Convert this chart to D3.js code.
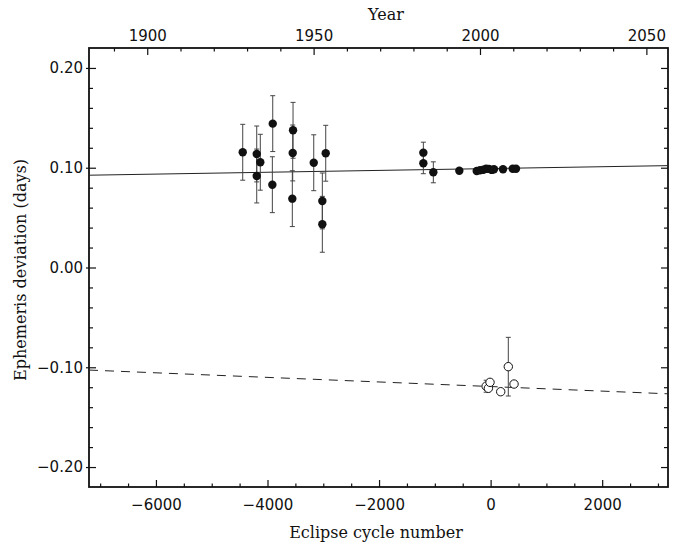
<!DOCTYPE html>
<html>
<head>
<meta charset="utf-8">
<script src="https://cdn.jsdelivr.net/npm/d3@7"></script>
<style>
  body { margin: 0; background: #fff; }
  svg { display: block; }
  .tick text { font-family: "DejaVu Sans", sans-serif; font-size: 15px; fill: #111; }
  .tick line { stroke: #111; stroke-width: 1.2; }
  .title { font-family: "DejaVu Serif", serif; font-size: 16px; fill: #111; }
</style>
</head>
<body>
<script>
// --- données ---
// points pleins (cycle, écart en jours, barre d'erreur)
const filledCycles = [-4444, -4193, -4193, -4129, -3906, -3913, -3542, -3548, -3555, -3171, -2956, -3017, -3017,
                      -1206, -1206, -1027, -561, -249, -190, -130, -80, -30, 20, 60, 222, 396, 455];
const filledDev    = [0.1155, 0.1138, 0.0917, 0.1055, 0.1442, 0.0830, 0.1375, 0.1148, 0.0690, 0.1050, 0.1145, 0.0667, 0.0433,
                      0.1151, 0.1045, 0.0954, 0.0970, 0.0967, 0.0975, 0.0980, 0.0990, 0.0988, 0.0978, 0.0985, 0.0984, 0.0990, 0.0990];
const filledErr    = [0.028, 0.028, 0.027, 0.028, 0.028, 0.028, 0.028, 0.028, 0.028, 0.028, 0.028, 0.028, 0.028,
                      0.0105, 0.0105, 0.0105, 0, 0, 0, 0, 0, 0, 0, 0, 0, 0, 0];

// points ouverts
const openCycles = [-80, -40, -11, 181, 317, 420];
const openDev    = [-0.1190, -0.1211, -0.1151, -0.1245, -0.0994, -0.1168];
const openErr    = [0.006, 0, 0, 0, 0.0294, 0];

// droites ajustées (extrémités)
const fitCycles = [-7200, 3180];
const fitSolid  = [0.0925, 0.1021];
const fitDashed = [-0.1028, -0.1266];

// graduations
const cycleMajor = [-6000, -4000, -2000, 0, 2000];
const yearMajor  = [1900, 1950, 2000, 2050];
const devMajor   = [-0.20, -0.10, 0.00, 0.10, 0.20];

const width = 688, height = 544;
const frame = { left: 89, right: 668, top: 48, bottom: 487 };

const svg = d3.select("body").append("svg")
    .attr("width", width)
    .attr("height", height);

const x = d3.scaleLinear().domain([-7200, 3180]).range([frame.left, frame.right]);
const xYear = d3.scaleLinear().domain([1882.5, 2056.5]).range([frame.left, frame.right]);
const y = d3.scaleLinear().domain([-0.22, 0.22]).range([frame.bottom, frame.top]);

// minor ticks
const cycleMinor = d3.range(-7000, 3001, 500).filter(v => !cycleMajor.includes(v));
const yearMinor = d3.range(1890, 2051, 10).filter(v => !yearMajor.includes(v));
const devMinor = d3.range(-0.20, 0.201, 0.02).map(v => +v.toFixed(2)).filter(v => !devMajor.includes(v));

function cleanAxis(g) {
    g.select(".domain").remove();
}

// --- Axe bas ---
svg.append("g")
    .attr("transform", `translate(0,${frame.bottom})`)
    .call(d3.axisBottom(x).tickValues(cycleMajor).tickSize(-7).tickPadding(12).tickFormat(d3.format("d")))
    .call(cleanAxis);
svg.append("g")
    .attr("transform", `translate(0,${frame.bottom})`)
    .call(d3.axisBottom(x).tickValues(cycleMinor).tickSize(-3.5).tickFormat(""))
    .call(cleanAxis);

// --- Axe haut (années) ---
svg.append("g")
    .attr("transform", `translate(0,${frame.top})`)
    .call(d3.axisTop(xYear).tickValues(yearMajor).tickSize(-7).tickPadding(7).tickFormat(d3.format("d")))
    .call(cleanAxis);
svg.append("g")
    .attr("transform", `translate(0,${frame.top})`)
    .call(d3.axisTop(xYear).tickValues(yearMinor).tickSize(-3.5).tickFormat(""))
    .call(cleanAxis);

// --- Axe gauche ---
svg.append("g")
    .attr("transform", `translate(${frame.left},0)`)
    .call(d3.axisLeft(y).tickValues(devMajor).tickSize(-7).tickPadding(6).tickFormat(d3.format(".2f")))
    .call(cleanAxis);
// petit débord extérieur des graduations principales
svg.append("g")
    .attr("transform", `translate(${frame.left},0)`)
    .call(d3.axisLeft(y).tickValues(devMajor).tickSize(3).tickFormat(""))
    .call(cleanAxis);
svg.append("g")
    .attr("transform", `translate(${frame.left},0)`)
    .call(d3.axisLeft(y).tickValues(devMinor).tickSize(-4).tickFormat(""))
    .call(cleanAxis);

// --- Axe droit ---
svg.append("g")
    .attr("transform", `translate(${frame.right},0)`)
    .call(d3.axisRight(y).tickValues(devMajor).tickSize(-7).tickFormat(""))
    .call(cleanAxis);
svg.append("g")
    .attr("transform", `translate(${frame.right},0)`)
    .call(d3.axisRight(y).tickValues(devMinor).tickSize(-4).tickFormat(""))
    .call(cleanAxis);

// --- Cadre ---
svg.append("rect")
    .attr("x", frame.left)
    .attr("y", frame.top)
    .attr("width", frame.right - frame.left)
    .attr("height", frame.bottom - frame.top)
    .attr("fill", "none")
    .attr("stroke", "#111")
    .attr("stroke-width", 1.8);

// --- Droites ---
const fitLine = d3.line().x(d => x(d[0])).y(d => y(d[1]));

svg.append("path")
    .datum(d3.zip(fitCycles, fitSolid))
    .attr("d", fitLine)
    .attr("fill", "none")
    .attr("stroke", "#222")
    .attr("stroke-width", 1);

svg.append("path")
    .datum(d3.zip(fitCycles, fitDashed))
    .attr("d", fitLine)
    .attr("fill", "none")
    .attr("stroke", "#222")
    .attr("stroke-width", 1)
    .attr("stroke-dasharray", "9,7");

// --- Données ---
const filled = filledCycles.map((c, i) => ({ c, v: filledDev[i], e: filledErr[i] }));
const open = openCycles.map((c, i) => ({ c, v: openDev[i], e: openErr[i] }));

function errorBars(data) {
    const g = svg.append("g")
        .attr("stroke", "#444")
        .attr("stroke-width", 1);
    const withErr = data.filter(d => d.e > 0);
    g.selectAll("line.bar")
        .data(withErr)
        .join("line")
        .attr("class", "bar")
        .attr("x1", d => x(d.c)).attr("x2", d => x(d.c))
        .attr("y1", d => y(d.v + d.e)).attr("y2", d => y(d.v - d.e));
    ["top", "bot"].forEach(side => {
        g.selectAll("line.cap-" + side)
            .data(withErr)
            .join("line")
            .attr("class", "cap-" + side)
            .attr("x1", d => x(d.c) - 2.5).attr("x2", d => x(d.c) + 2.5)
            .attr("y1", d => y(side === "top" ? d.v + d.e : d.v - d.e))
            .attr("y2", d => y(side === "top" ? d.v + d.e : d.v - d.e));
    });
}

errorBars(filled);
errorBars(open);

svg.append("g")
    .selectAll("circle")
    .data(filled)
    .join("circle")
    .attr("cx", d => x(d.c))
    .attr("cy", d => y(d.v))
    .attr("r", 4.2)
    .attr("fill", "#111");

svg.append("g")
    .selectAll("circle")
    .data(open)
    .join("circle")
    .attr("cx", d => x(d.c))
    .attr("cy", d => y(d.v))
    .attr("r", 4.2)
    .attr("fill", "#fff")
    .attr("stroke", "#111")
    .attr("stroke-width", 1);

// --- Titres ---
svg.append("text")
    .attr("class", "title")
    .attr("x", 386)
    .attr("y", 20)
    .attr("text-anchor", "middle")
    .text("Year");

svg.append("text")
    .attr("class", "title")
    .attr("x", 376)
    .attr("y", 538)
    .attr("text-anchor", "middle")
    .text("Eclipse cycle number");

svg.append("text")
    .attr("class", "title")
    .attr("transform", "translate(26,270) rotate(-90)")
    .attr("text-anchor", "middle")
    .text("Ephemeris deviation (days)");
</script>
</body>
</html>
